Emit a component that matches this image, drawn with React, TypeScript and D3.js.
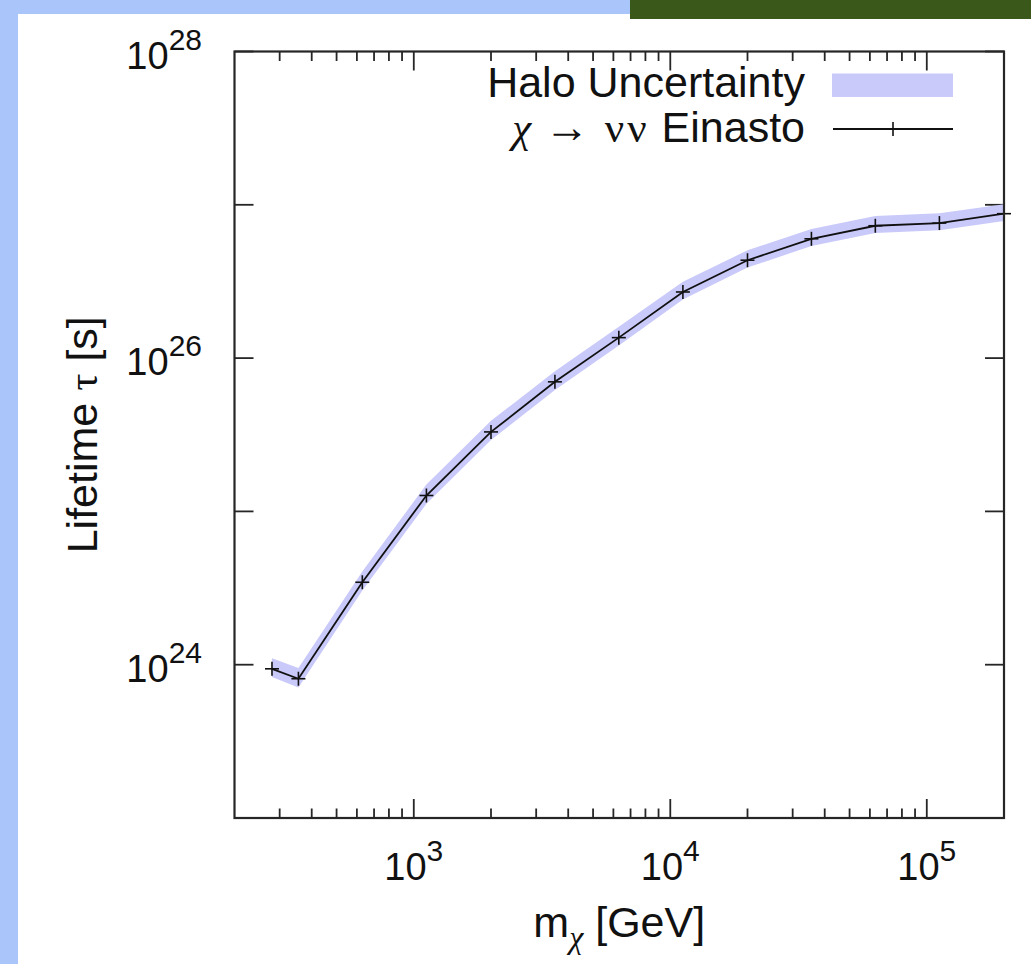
import React from "react";
import * as d3 from "d3";

// Dark-matter mass grid [GeV]
const massGeV = [280, 355, 630, 1120, 2000, 3550, 6300, 11200, 20000, 35500, 63000, 112000, 200000];
// Lifetime bound for chi -> nu nu, Einasto profile [s]
const tauEinasto = [9.4e23, 8.1e23, 3.45e24, 1.27e25, 3.3e25, 7.0e25, 1.36e26, 2.7e26, 4.35e26, 6.0e26, 7.3e26, 7.6e26, 8.75e26];
// Halo-profile uncertainty envelope [s]
const tauHigh = [1.1e24, 9.5e23, 4.05e24, 1.5e25, 3.9e25, 8.2e25, 1.6e26, 3.15e26, 5.05e26, 6.95e26, 8.45e26, 8.8e26, 1.01e27];
const tauLow = [8.3e23, 7.1e23, 3.05e24, 1.12e25, 2.92e25, 6.2e25, 1.21e26, 2.41e26, 3.9e26, 5.38e26, 6.55e26, 6.82e26, 7.85e26];

const xMajorExps = [3, 4, 5];
const yTickExps = [23, 24, 25, 26, 27, 28];
const yLabelExps = [24, 26, 28];

const W = 1031;
const H = 964;
const left = 234.5;
const right = 1004;
const top = 51.5;
const bottom = 818;

const SANS = "'Liberation Sans', Arial, Helvetica, sans-serif";
const SERIF = "'Liberation Serif', 'DejaVu Serif', serif";
const INK = "#262626";
const BAND = "#c9c9fa";

export default function App() {
  const x = d3.scaleLog().domain([200, 2e5]).range([left, right]);
  const y = d3.scaleLog().domain([1e23, 1e28]).range([bottom, top]);

  // minor ticks 2..9 x 10^k inside the domain, majors at decades
  const xMinor: number[] = [];
  for (let k = 2; k <= 5; k++) {
    for (let m = 2; m <= 9; m++) {
      const v = m * Math.pow(10, k);
      if (v > 200 && v < 2e5) xMinor.push(v);
    }
  }
  const xMajor = xMajorExps.map((e) => Math.pow(10, e));

  const idx = massGeV.map((_, i) => i);
  const band = d3
    .area<number>()
    .x((i) => x(massGeV[i]))
    .y0((i) => y(tauLow[i]))
    .y1((i) => y(tauHigh[i]));
  const line = d3
    .line<number>()
    .x((i) => x(massGeV[i]))
    .y((i) => y(tauEinasto[i]));

  const majorLen = 19;
  const minorLen = 9.5;
  const mk = 7; // half-size of the '+' point marker

  return (
    <svg
      width={W}
      height={H}
      viewBox={`0 0 ${W} ${H}`}
      style={{ position: "absolute", left: 0, top: 0, background: "#fff" }}
    >
      {/* slide decoration */}
      <rect x={0} y={0} width={18} height={H} fill="#a9c5fa" />
      <rect x={0} y={0} width={630} height={14} fill="#a9c5fa" />
      <rect x={630} y={0} width={W - 630} height={19} fill="#3a5819" />

      {/* x ticks, bottom and mirrored top; y ticks on both sides */}
      <g stroke={INK} strokeWidth={1.8}>
        {xMinor.map((v) => (
          <g key={`xm${v}`}>
            <line x1={x(v)} x2={x(v)} y1={bottom} y2={bottom - minorLen} />
            <line x1={x(v)} x2={x(v)} y1={top} y2={top + minorLen} />
          </g>
        ))}
        {xMajor.map((v) => (
          <g key={`xM${v}`}>
            <line x1={x(v)} x2={x(v)} y1={bottom} y2={bottom - majorLen} />
            <line x1={x(v)} x2={x(v)} y1={top} y2={top + majorLen} />
          </g>
        ))}
        {yTickExps.map((e) => {
          const yy = y(Math.pow(10, e));
          return (
            <g key={`y${e}`}>
              <line x1={left} x2={left + majorLen} y1={yy} y2={yy} />
              <line x1={right} x2={right - majorLen} y1={yy} y2={yy} />
            </g>
          );
        })}
      </g>

      {/* halo uncertainty band and lifetime curve */}
      <path d={band(idx) ?? ""} fill={BAND} stroke="none" />
      <path d={line(idx) ?? ""} fill="none" stroke="#111" strokeWidth={1.8} />
      <g stroke="#111" strokeWidth={1.6}>
        {idx.map((i) => {
          const px = x(massGeV[i]);
          const py = y(tauEinasto[i]);
          return (
            <g key={`p${i}`}>
              <line x1={px - mk} x2={px + mk} y1={py} y2={py} />
              <line x1={px} x2={px} y1={py - mk} y2={py + mk} />
            </g>
          );
        })}
      </g>

      {/* frame */}
      <rect
        x={left}
        y={top}
        width={right - left}
        height={bottom - top}
        fill="none"
        stroke={INK}
        strokeWidth={2.2}
      />

      {/* tick labels */}
      <g fontFamily={SANS} fill="#111">
        {yLabelExps.map((e) => {
          const yy = y(Math.pow(10, e));
          return (
            <text key={`yl${e}`} x={202} y={yy + 17} textAnchor="end" fontSize={38}>
              10
              <tspan fontSize={30} dy={-19}>
                {e}
              </tspan>
            </text>
          );
        })}
        {xMajorExps.map((e) => (
          <text
            key={`xl${e}`}
            x={x(Math.pow(10, e))}
            y={880}
            textAnchor="middle"
            fontSize={38}
          >
            10
            <tspan fontSize={30} dy={-19}>
              {e}
            </tspan>
          </text>
        ))}
      </g>

      {/* axis titles */}
      <text
        transform={`translate(97, ${(top + bottom) / 2}) rotate(-90)`}
        textAnchor="middle"
        fontFamily={SANS}
        fontSize={43}
        fill="#111"
      >
        Lifetime <tspan fontFamily={SERIF}>τ</tspan> [s]
      </text>
      <text
        x={(left + right) / 2}
        y={937}
        textAnchor="middle"
        fontFamily={SANS}
        fontSize={43}
        fill="#111"
      >
        m
        <tspan fontFamily={SERIF} fontStyle="italic" fontSize={32} dy={11}>
          χ
        </tspan>
        <tspan dy={-11}> [GeV]</tspan>
      </text>

      {/* legend */}
      <g fontFamily={SANS} fontSize={43} fill="#111">
        <text x={805} y={97} textAnchor="end">
          Halo Uncertainty
        </text>
        <rect x={832} y={73.5} width={121} height={23.5} fill={BAND} />
        <text x={805} y={142} textAnchor="end">
          <tspan fontFamily={SERIF} fontStyle="italic">
            χ
          </tspan>
          <tspan fontFamily={SERIF} fontSize={45} letterSpacing={2}>
            {" → "}
          </tspan>
          <tspan fontFamily={SERIF} letterSpacing={3}>
            νν
          </tspan>{" "}
          Einasto
        </text>
        <line x1={833} x2={953} y1={129} y2={129} stroke="#111" strokeWidth={1.8} />
        <line x1={893} x2={893} y1={129 - mk} y2={129 + mk} stroke="#111" strokeWidth={1.6} />
      </g>
    </svg>
  );
}
